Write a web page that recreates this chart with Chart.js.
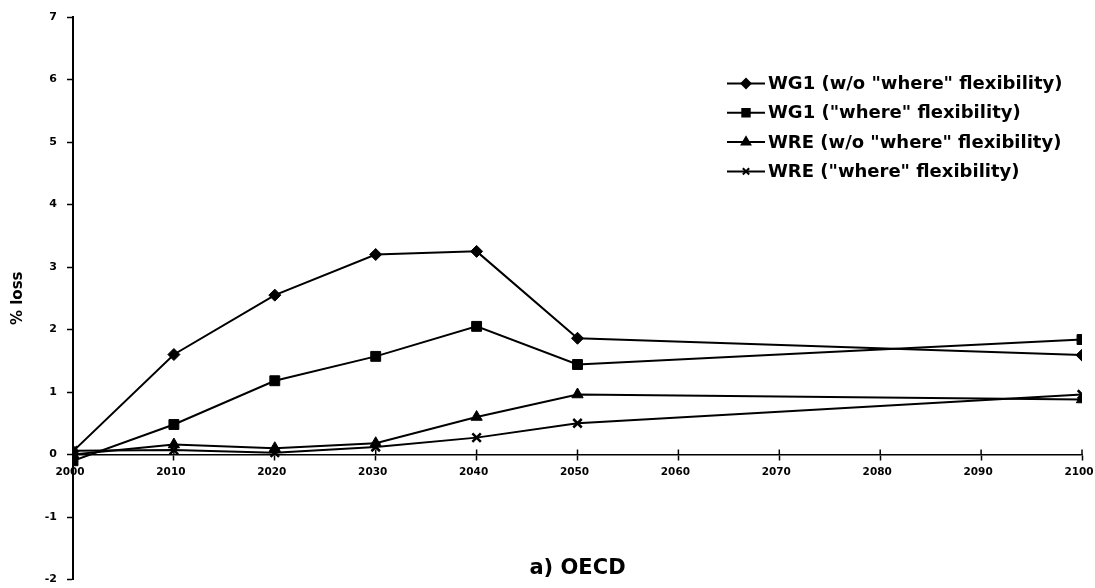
<!DOCTYPE html>
<html>
<head>
<meta charset="utf-8">
<script src="https://cdn.jsdelivr.net/npm/chart.js@4.4.1/dist/chart.umd.min.js"></script>
<style>
  html, body { margin: 0; padding: 0; background: #fff; }
  #wrap { width: 1095px; height: 588px; }
</style>
</head>
<body>
<div id="wrap"><canvas id="lossChart" width="1095" height="588"></canvas></div>
<script>
// % loss, OECD
const years = [2000, 2010, 2020, 2030, 2040, 2050, 2100];
const wg1NoWhere = [0.05, 1.6, 2.55, 3.2, 3.25, 1.86, 1.59];
const wg1Where = [-0.1, 0.48, 1.18, 1.57, 2.05, 1.44, 1.84];
const wreNoWhere = [0.0, 0.16, 0.1, 0.18, 0.6, 0.96, 0.88];
const wreWhere = [0.06, 0.07, 0.03, 0.12, 0.27, 0.5, 0.96];
const seriesLabels = [
    'WG1 (w/o "where" flexibility)',
    'WG1 ("where" flexibility)',
    'WRE (w/o "where" flexibility)',
    'WRE ("where" flexibility)'
];
const panelTitle = 'a) OECD';
const yTitle = '% loss';

const FONT = '"DejaVu Sans", sans-serif';

const toPoints = vals => years.map((x, i) => ({ x, y: vals[i] }));

const makeSet = (label, vals, style, radius) => ({
    label,
    data: toPoints(vals),
    borderColor: '#000',
    backgroundColor: '#000',
    borderWidth: 2,
    pointStyle: style,
    pointRadius: radius,
    pointBackgroundColor: '#000',
    pointBorderColor: '#000',
    pointBorderWidth: style === 'crossRot' ? 2.5 : 1,
    tension: 0
});

// crossing tick marks on the zero axis, legend and panel caption
const extras = {
    id: 'extras',
    beforeDatasetsDraw(chart) {
        const { ctx, scales: { x, y } } = chart;
        const y0 = y.getPixelForValue(0);
        ctx.save();
        ctx.strokeStyle = '#000';
        ctx.lineWidth = 1.5;
        x.ticks.forEach(t => {
            const px = x.getPixelForValue(t.value);
            ctx.beginPath();
            ctx.moveTo(px, y0 - 5);
            ctx.lineTo(px, y0);
            ctx.stroke();
        });
        ctx.restore();
    },
    afterDraw(chart) {
        const { ctx, chartArea, scales: { y } } = chart;
        ctx.save();
        ctx.fillStyle = '#000';
        ctx.strokeStyle = '#000';

        // legend
        const lx = 727, lw = 38;
        chart.data.datasets.forEach((ds, i) => {
            const ly = y.getPixelForValue(6) + 4 + i * 29.3;
            ctx.lineWidth = 2;
            ctx.beginPath();
            ctx.moveTo(lx, ly);
            ctx.lineTo(lx + lw, ly);
            ctx.stroke();
            Chart.helpers.drawPoint(ctx, {
                pointStyle: ds.pointStyle,
                radius: ds.pointRadius * 0.75,
                borderWidth: ds.pointBorderWidth,
                rotation: 0
            }, lx + lw / 2, ly);
            ctx.font = 'bold 18px ' + FONT;
            ctx.textBaseline = 'middle';
            ctx.textAlign = 'left';
            ctx.fillText(ds.label, lx + lw + 3, ly + 1);
        });

        // caption under the plot
        ctx.font = 'bold 21px ' + FONT;
        ctx.textAlign = 'center';
        ctx.textBaseline = 'middle';
        ctx.fillText(panelTitle, (chartArea.left + chartArea.right) / 2, y.getPixelForValue(-1.82));
        ctx.restore();
    }
};

new Chart(document.getElementById('lossChart'), {
    type: 'line',
    data: {
        datasets: [
            makeSet(seriesLabels[0], wg1NoWhere, 'rectRot', 6),
            makeSet(seriesLabels[1], wg1Where, 'rect', 7),
            makeSet(seriesLabels[2], wreNoWhere, 'triangle', 6.5),
            makeSet(seriesLabels[3], wreWhere, 'crossRot', 6)
        ]
    },
    options: {
        responsive: false,
        animation: false,
        layout: { padding: { top: 17, right: 13, bottom: 8, left: 0 } },
        plugins: {
            legend: { display: false },
            tooltip: { enabled: false }
        },
        scales: {
            x: {
                type: 'linear',
                min: 2000,
                max: 2100,
                position: { y: 0 },
                ticks: {
                    stepSize: 10,
                    color: '#000',
                    padding: 6,
                    labelOffset: -3,
                    maxRotation: 0,
                    font: { family: FONT, size: 10.5, weight: 'bold' },
                    callback: v => String(v)
                },
                grid: {
                    display: true,
                    drawOnChartArea: false,
                    drawTicks: true,
                    tickLength: 5,
                    tickColor: '#000',
                    tickWidth: 1.5
                },
                border: { display: true, color: '#000', width: 1.5 },
                afterFit(scale) {
                    scale.paddingLeft = 0;
                    scale.paddingRight = 0;
                    scale.height = 0;
                }
            },
            y: {
                min: -2,
                max: 7,
                ticks: {
                    stepSize: 1,
                    color: '#000',
                    padding: 10,
                    font: { family: FONT, size: 11, weight: 'bold' }
                },
                grid: {
                    display: true,
                    drawOnChartArea: false,
                    drawTicks: true,
                    tickLength: 6,
                    tickColor: '#000',
                    tickWidth: 1.5
                },
                border: { display: true, color: '#000', width: 2 },
                title: {
                    display: true,
                    text: yTitle,
                    color: '#000',
                    padding: { top: 9, bottom: 0 },
                    font: { family: FONT, size: 15, weight: 'bold' }
                },
                afterFit(scale) {
                    scale.width = 73;
                    scale.paddingTop = 0;
                    scale.paddingBottom = 0;
                }
            }
        }
    },
    plugins: [extras]
});
</script>
</body>
</html>
